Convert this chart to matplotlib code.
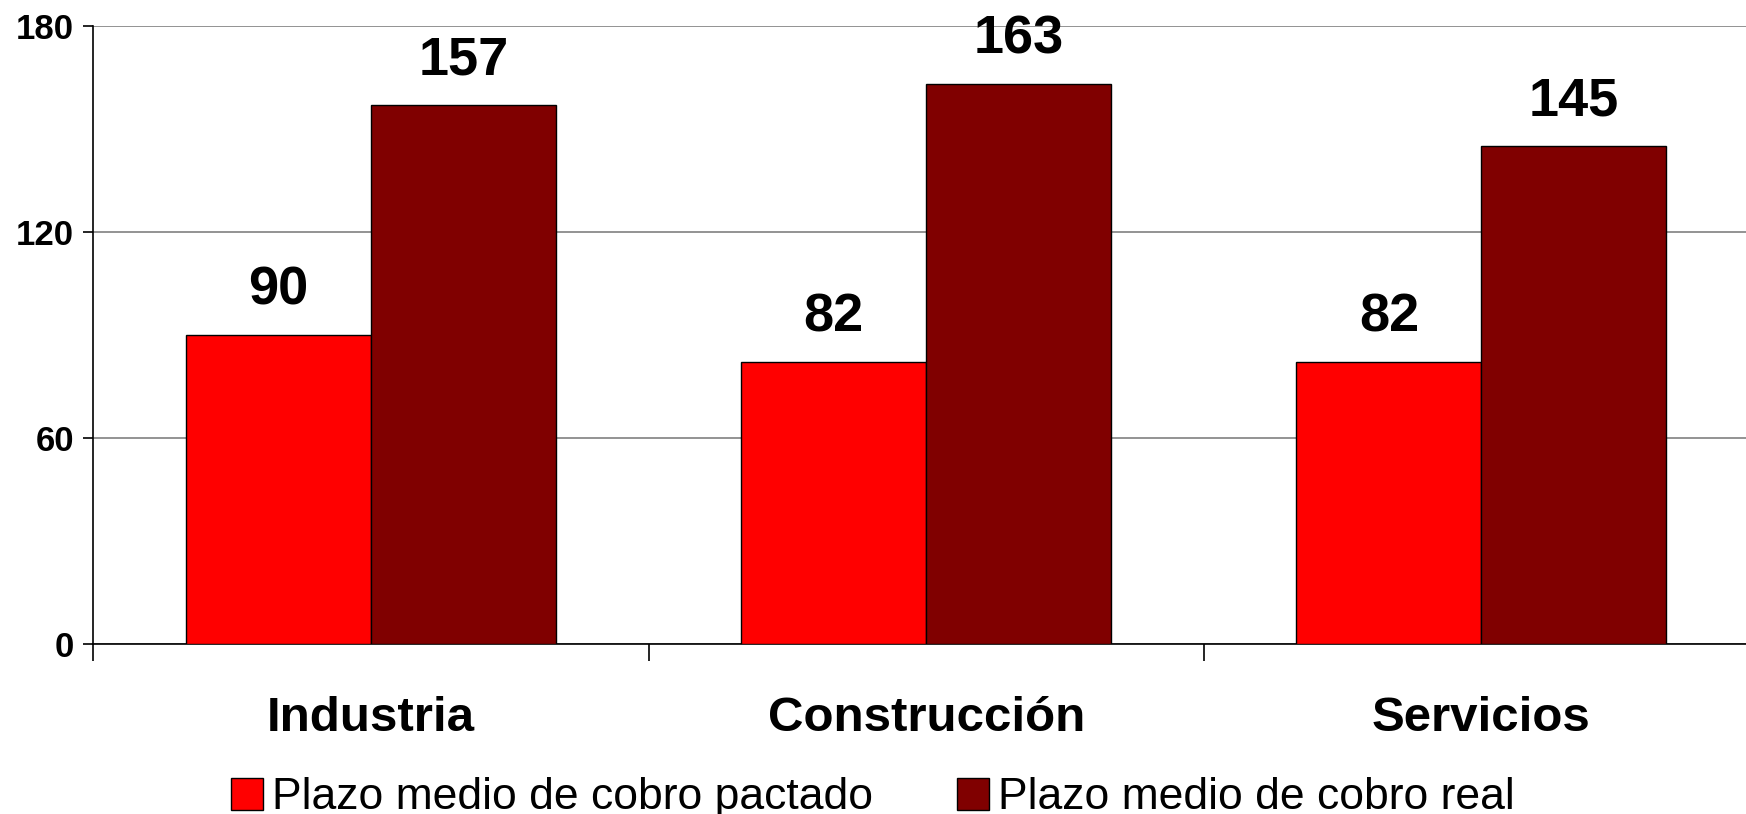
import matplotlib.pyplot as plt
import numpy as np

plt.rcParams['font.family'] = ['Liberation Sans', 'DejaVu Sans']

categories = ['Industria', 'Construcción', 'Servicios']
pactado = [90, 82, 82]
real = [157, 163, 145]
series_names = ['Plazo medio de cobro pactado', 'Plazo medio de cobro real']
yticks = [0, 60, 120, 180]

fig = plt.figure(figsize=(17.46, 8.14), dpi=100)
ax = fig.add_axes([0.05355, 0.2093, 0.9539, 0.7591])

x = np.arange(len(categories)) + 0.5
w = 1 / 3
b1 = ax.bar(x - w / 2, pactado, w, color='#ff0000', edgecolor='black', linewidth=1, zorder=3)
b2 = ax.bar(x + w / 2, real, w, color='#800000', edgecolor='black', linewidth=1, zorder=3)

for bars in (b1, b2):
    ax.bar_label(bars, padding=14, fontsize=39, fontweight='bold')

ax.set_xlim(0, 3)
ax.set_ylim(0, 180)
ax.set_yticks(yticks)
ax.set_yticklabels([str(v) for v in yticks], fontsize=25, fontweight='bold')
ax.yaxis.grid(True, color='#808080', linewidth=1.2, zorder=0)

# category separators as major ticks, names on minor ticks
ax.set_xticks([0, 1, 2, 3])
ax.set_xticklabels([])
ax.set_xticks(x, minor=True)
ax.set_xticklabels(categories, minor=True, fontsize=35.5, fontweight='bold')
ax.tick_params(axis='x', which='major', length=12, width=1.2, direction='out')
ax.tick_params(axis='x', which='minor', length=0, pad=38)
ax.tick_params(axis='y', length=7, width=1.2, pad=7)

for s in ('top', 'right'):
    ax.spines[s].set_visible(False)
ax.spines['left'].set_linewidth(1.2)
ax.spines['bottom'].set_linewidth(1.2)

fig.legend([b1, b2], series_names, loc='center', bbox_to_anchor=(0.5, 0.02),
           ncol=2, frameon=False, fontsize=32, handlelength=0.72, handleheight=0.72,
           handletextpad=0.2, columnspacing=1.9, borderaxespad=0)

fig.savefig('out.png', dpi=100)
